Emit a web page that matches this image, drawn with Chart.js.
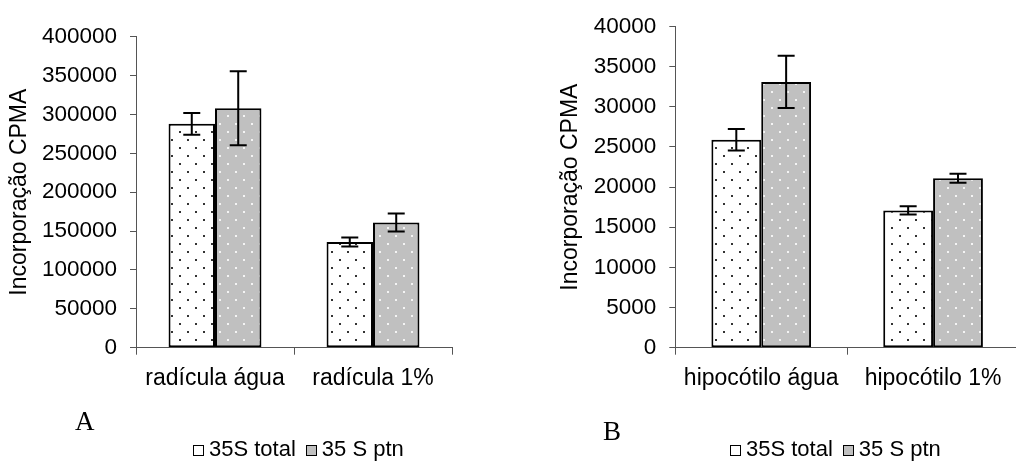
<!DOCTYPE html>
<html>
<head>
<meta charset="utf-8">
<script src="https://cdn.jsdelivr.net/npm/chart.js@4"></script>
<style>
  html, body { margin:0; padding:0; background:#fff; width:1016px; height:461px; overflow:hidden; position:relative; }
  canvas { position:absolute; top:0; }
  .letter { position:absolute; font-family:"Liberation Serif","Times New Roman",serif; font-size:27px; line-height:1; color:#000; }
  .legend { position:absolute; font-family:"Liberation Sans",Arial,sans-serif; font-size:22px; line-height:1; color:#000; white-space:nowrap; }
  .legend .box { display:inline-block; width:9px; height:9px; border:1.5px solid #000; vertical-align:baseline; margin-right:5px; }
  .legend .gap { display:inline-block; width:10px; }
</style>
</head>
<body>
<canvas id="cA" width="520" height="461" style="left:0px"></canvas>
<canvas id="cB" width="520" height="461" style="left:520px"></canvas>
<div class="letter" style="left:75px; top:408px;">A</div>
<div class="letter" style="left:603px; top:418px;">B</div>
<div class="legend" style="left:193px; top:438px;"><span class="box" style="background:#fff"></span>35S total<span class="gap"></span><span class="box" style="background:#c0c0c0"></span>35 S ptn</div>
<div class="legend" style="left:730px; top:438px;"><span class="box" style="background:#fff"></span>35S total<span class="gap"></span><span class="box" style="background:#c0c0c0"></span>35 S ptn</div>
<script>
// ---- data ----
const seriesNames = ['35S total', '35 S ptn'];
const yTitle = 'Incorporação CPMA';

const catsA = ['radícula água', 'radícula 1%'];
const totalA = [288000, 136000];
const totalErrA = [14000, 5800];
const ptnA = [308000, 161000];
const ptnErrA = [47500, 11500];
const maxA = 400000, stepA = 50000;

const catsB = ['hipocótilo água', 'hipocótilo 1%'];
const totalB = [25900, 17100];
const totalErrB = [1350, 500];
const ptnB = [33100, 21100];
const ptnErrB = [3250, 550];
const maxB = 40000, stepB = 5000;

// ---- patterns ----
function dotPattern(bg, dot) {
  const c = document.createElement('canvas');
  c.width = 16; c.height = 16;
  const g = c.getContext('2d');
  g.fillStyle = bg; g.fillRect(0, 0, 16, 16);
  g.fillStyle = dot;
  g.fillRect(3, 3, 2, 2);
  g.fillRect(11, 11, 2, 2);
  return g.createPattern(c, 'repeat');
}

const errPlugin = {
  id: 'errbars',
  afterDatasetsDraw(chart, args, opts) {
    const ctx = chart.ctx, y = chart.scales.y;
    chart.data.datasets.forEach((ds, i) => {
      const meta = chart.getDatasetMeta(i);
      const errs = opts.errors[i];
      meta.data.forEach((bar, j) => {
        const v = ds.data[j], e = errs[j];
        const yt = y.getPixelForValue(v + e), yb = y.getPixelForValue(v - e);
        ctx.save();
        ctx.strokeStyle = '#000'; ctx.lineWidth = 2;
        ctx.beginPath();
        ctx.moveTo(bar.x, yt); ctx.lineTo(bar.x, yb);
        ctx.moveTo(bar.x - 8.5, yt); ctx.lineTo(bar.x + 8.5, yt);
        ctx.moveTo(bar.x - 8.5, yb); ctx.lineTo(bar.x + 8.5, yb);
        ctx.stroke();
        ctx.restore();
      });
    });
  }
};

function makeChart(id, cats, total, totalErr, ptn, ptnErr, max, step, cfg) {
  const axisColor = '#555';
  return new Chart(document.getElementById(id), {
    type: 'bar',
    data: {
      labels: cats,
      datasets: [
        { label: seriesNames[0], data: total, backgroundColor: dotPattern('#ffffff', '#333333'),
          borderColor: '#000', borderWidth: 2, borderSkipped: false },
        { label: seriesNames[1], data: ptn, backgroundColor: dotPattern('#c0c0c0', '#f4f4f4'),
          borderColor: '#000', borderWidth: 2, borderSkipped: false }
      ]
    },
    options: {
      responsive: false,
      animation: false,
      devicePixelRatio: 1,
      layout: { padding: { top: cfg.top, right: cfg.right, bottom: 0, left: 0 } },
      datasets: { bar: { barPercentage: 1.0, categoryPercentage: cfg.catPct } },
      plugins: {
        legend: { display: false },
        tooltip: { enabled: false },
        errbars: { errors: [totalErr, ptnErr] }
      },
      scales: {
        x: {
          offset: true,
          grid: { display: true, drawOnChartArea: false, drawTicks: true, tickLength: 7, color: axisColor, offset: true },
          border: { display: true, color: axisColor, width: 1 },
          ticks: { color: '#000', padding: 10, maxRotation: 0, autoSkip: false,
                   font: { family: 'Liberation Sans, Arial, sans-serif', size: 23 } },
          afterFit(s) { s.height = 461 - 347.7; }
        },
        y: {
          min: 0, max: max,
          grid: { display: true, drawOnChartArea: false, drawTicks: true, tickLength: 6, color: axisColor },
          border: { display: true, color: axisColor, width: 1 },
          ticks: { stepSize: step, color: '#000', padding: 13,
                   font: { family: 'Liberation Sans, Arial, sans-serif', size: 22.5 },
                   callback: v => String(v) },
          title: { display: true, text: yTitle, color: '#000',
                   font: { family: 'Liberation Sans, Arial, sans-serif', size: 23 },
                   padding: { top: cfg.titlePad, bottom: 0 } },
          afterFit(s) { s.width = cfg.axisW; }
        }
      }
    },
    plugins: [errPlugin]
  });
}

makeChart('cA', catsA, totalA, totalErrA, ptnA, ptnErrA, maxA, stepA,
  { top: 36.7, right: 68, catPct: 0.588, axisW: 136, titlePad: 6 });
makeChart('cB', catsB, totalB, totalErrB, ptnB, ptnErrB, maxB, stepB,
  { top: 24.3, right: 21, catPct: 0.58, axisW: 155.3, titlePad: 37 });
</script>
</body>
</html>
